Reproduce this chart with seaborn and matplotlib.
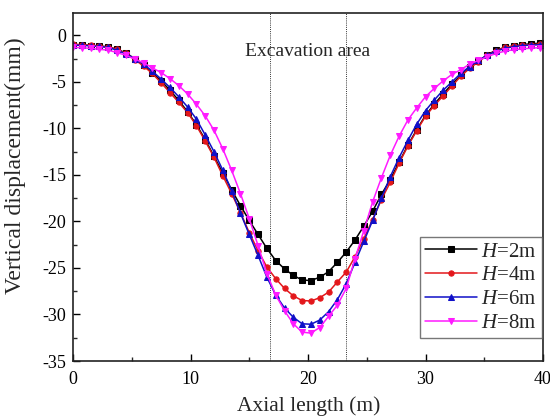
import numpy as np
import pandas as pd
import matplotlib
matplotlib.use("Agg")
import matplotlib.pyplot as plt
import seaborn as sns

# ---- data ----
x_vals = [0.0, 0.75, 1.5, 2.25, 3.0, 3.75, 4.5, 5.25, 6.0, 6.75, 7.5, 8.25, 9.0, 9.75,
          10.5, 11.25, 12.0, 12.75, 13.5, 14.25, 15.0, 15.75, 16.5, 17.25, 18.0, 18.75,
          19.5, 20.25, 21.0, 21.75, 22.5, 23.25, 24.0, 24.75, 25.5, 26.25, 27.0, 27.75,
          28.5, 29.25, 30.0, 30.75, 31.5, 32.25, 33.0, 33.75, 34.5, 35.25, 36.0, 36.75,
          37.5, 38.25, 39.0, 39.75]

h2 = [-1.0, -1.02, -1.1, -1.15, -1.25, -1.5, -1.9, -2.5, -3.2, -4.0, -4.9, -5.9, -7.0, -8.2,
      -9.6, -11.2, -13.0, -14.8, -16.6, -18.3, -19.9, -21.4, -22.9, -24.2, -25.1, -25.8,
      -26.3, -26.35, -26.0, -25.4, -24.4, -23.3, -22.0, -20.5, -18.9, -17.1, -15.5, -13.65,
      -11.8, -10.15, -8.6, -7.4, -6.3, -5.25, -4.3, -3.45, -2.75, -2.1, -1.6, -1.3,
      -1.15, -1.0, -0.9, -0.85]

h4 = [-0.95, -1.0, -1.05, -1.15, -1.25, -1.5, -1.95, -2.6, -3.3, -4.1, -5.1, -6.15, -7.2, -8.3,
      -9.7, -11.35, -13.1, -15.1, -17.0, -19.05, -21.2, -23.15, -24.9, -26.15, -27.2, -28.0,
      -28.5, -28.55, -28.2, -27.6, -26.5, -25.45, -23.8, -21.85, -19.8, -17.65, -15.8, -13.75,
      -11.9, -10.25, -8.7, -7.55, -6.5, -5.45, -4.4, -3.55, -2.85, -2.15, -1.65, -1.3,
      -1.15, -1.05, -1.0, -0.95]

h6 = [-1.05, -1.08, -1.12, -1.2, -1.3, -1.6, -2.0, -2.5, -3.1, -3.85, -4.7, -5.6, -6.6, -7.7,
      -9.0, -10.7, -12.5, -14.5, -16.7, -19.1, -21.4, -23.65, -26.0, -27.9, -29.3, -30.3,
      -31.0, -31.05, -30.6, -29.7, -28.4, -26.7, -24.4, -22.15, -19.9, -17.5, -15.2, -13.15,
      -11.3, -9.55, -8.1, -6.95, -5.9, -5.0, -4.1, -3.35, -2.7, -2.15, -1.7, -1.4,
      -1.22, -1.1, -1.05, -1.0]

h8 = [-1.3, -1.33, -1.4, -1.5, -1.6, -1.85, -2.15, -2.55, -2.95, -3.5, -4.0, -4.65, -5.4, -6.3,
      -7.4, -8.65, -10.2, -12.2, -14.5, -17.0, -19.7, -22.6, -25.6, -27.9, -29.6, -31.0,
      -31.9, -32.0, -31.4, -30.2, -29.0, -27.2, -24.0, -21.0, -17.9, -15.3, -12.9, -10.85,
      -9.1, -7.8, -6.6, -5.7, -4.9, -4.2, -3.7, -3.1, -2.7, -2.3, -1.95, -1.7,
      -1.55, -1.45, -1.38, -1.32]

series_labels = ["$H$=2m", "$H$=4m", "$H$=6m", "$H$=8m"]
series_values = [h2, h4, h6, h8]
series_colors = ["#000000", "#e3171b", "#1010c8", "#ff1aff"]
series_markers = ["s", "o", "^", "v"]

excavation_bounds = [16.75, 23.25]
x_ticks = [0, 10, 20, 30, 40]
y_ticks = [0, -5, -10, -15, -20, -25, -30, -35]

# ---- styling ----
sns.set_style("ticks")
plt.rcParams["font.family"] = ["Liberation Serif", "DejaVu Serif"]
plt.rcParams["mathtext.fontset"] = "custom"
plt.rcParams["mathtext.rm"] = "Liberation Serif"
plt.rcParams["mathtext.it"] = "Liberation Serif:italic"
plt.rcParams["axes.unicode_minus"] = False

fig = plt.figure(figsize=(5.5, 4.18), dpi=100)
ax = fig.add_axes([73 / 550, 1 - 361 / 418, (543 - 73) / 550, (361 - 13) / 418])

rows = []
for lab, vals in zip(series_labels, series_values):
    for xv, yv in zip(x_vals, vals):
        rows.append({"x": xv, "y": yv, "series": lab})
df = pd.DataFrame(rows)

for lab, col, mk in zip(series_labels, series_colors, series_markers):
    sub = df[df["series"] == lab]
    sns.lineplot(data=sub, x="x", y="y", ax=ax, color=col, marker=mk, markersize=3.8,
                 markeredgecolor=col, linewidth=1.1, label=lab)

for xb in excavation_bounds:
    ax.axvline(xb, color="#333333", linestyle=(0, (1, 1.2)), linewidth=0.7, zorder=0)

ax.text(20, -1.7, "Excavation area", ha="center", va="center", fontsize=14)

ax.set_xlim(0, 40)
ax.set_ylim(-35, 2.4)
ax.set_xticks(x_ticks)
ax.set_yticks(y_ticks)
ax.set_xticklabels([str(t) for t in x_ticks])
ax.set_yticklabels([str(t) for t in y_ticks])
ax.xaxis.set_minor_locator(matplotlib.ticker.MultipleLocator(5))
ax.yaxis.set_minor_locator(matplotlib.ticker.MultipleLocator(2.5))
ax.tick_params(axis="both", which="major", direction="in", length=5, width=1.0,
               labelsize=13, colors="black", top=False, right=False)
ax.tick_params(axis="both", which="minor", direction="in", length=3, width=1.0,
               top=False, right=False)
ax.tick_params(axis="x", pad=7)
ax.tick_params(axis="y", pad=5)
for sp in ax.spines.values():
    sp.set_visible(True)
    sp.set_linewidth(1.2)
    sp.set_color("#222222")

ax.set_xlabel("Axial length (m)", fontsize=15.5)
ax.set_ylabel("Vertical displacement(mm)", fontsize=17)
ax.xaxis.set_label_coords(0.501, -0.1)
ax.yaxis.set_label_coords(-0.1, 0.56)

leg = ax.legend(loc="lower right", bbox_to_anchor=(0.998, 0.066), fontsize=15,
                frameon=True, fancybox=False, edgecolor="#555555",
                handlelength=2.5, handletextpad=0.2, labelspacing=0.2,
                borderpad=0.25, borderaxespad=0.0)
leg.get_frame().set_linewidth(1.0)

fig.savefig("out.png", dpi=100)
